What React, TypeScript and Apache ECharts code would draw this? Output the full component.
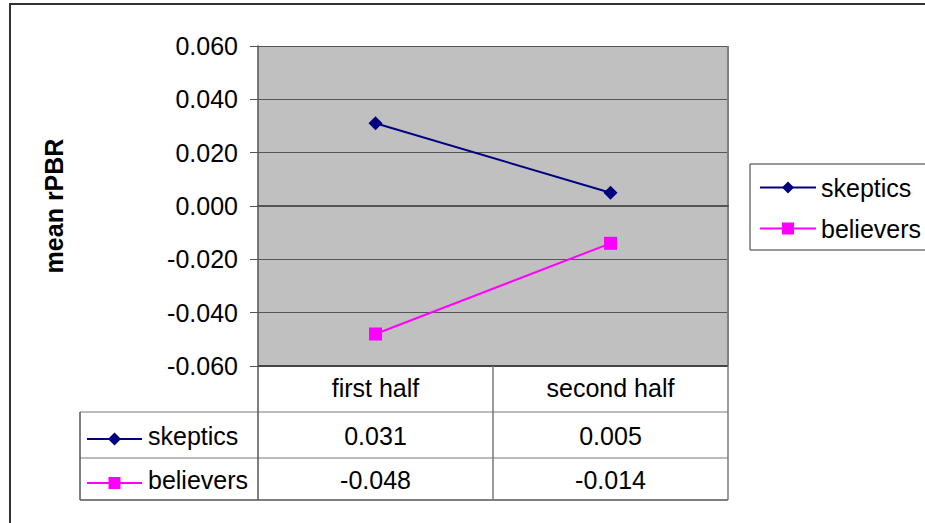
import React, { useEffect, useRef } from "react";
import * as echarts from "echarts";

// Half-by-half comparison of mean rPBR for the two groups
const categories = ["first half", "second half"];
const skeptics = [0.031, 0.005];
const believers = [-0.048, -0.014];
const seriesNames = ["skeptics", "believers"];
const seriesColors = ["#000080", "#FF00FF"];
const yMin = -0.06;
const yMax = 0.06;
const yStep = 0.02;

const FONT = "'Liberation Sans', Arial, sans-serif";
const FS = 25;

const fmt = (v: number) => (Math.abs(v) < 1e-9 ? 0 : v).toFixed(3);

export default function App() {
  const ref = useRef<HTMLDivElement>(null);

  useEffect(() => {
    document.body.style.margin = "0";
    if (!ref.current) return;
    const chart = echarts.init(ref.current, undefined, { renderer: "svg" });

    const gridLeft = 258;
    const gridTop = 46;
    const gridW = 470;
    const gridH = 320;

    chart.setOption({
      animation: false,
      backgroundColor: "#ffffff",
      textStyle: { fontFamily: FONT },
      grid: {
        left: gridLeft,
        top: gridTop,
        width: gridW,
        height: gridH,
        show: true,
        backgroundColor: "#c0c0c0",
        borderWidth: 0,
      },
      legend: {
        orient: "vertical",
        left: 750,
        top: 164,
        itemWidth: 56,
        itemHeight: 15,
        itemGap: 16,
        padding: [11, 14, 9, 9],
        borderColor: "#333333",
        borderWidth: 1,
        textStyle: { fontSize: FS, color: "#000", fontFamily: FONT },
        data: seriesNames,
      },
      xAxis: {
        type: "category",
        data: categories,
        boundaryGap: true,
        axisLine: { onZero: true, lineStyle: { color: "#555555", width: 2 } },
        axisTick: { show: false },
        axisLabel: { show: false },
        splitLine: { show: false },
      },
      yAxis: {
        type: "value",
        min: yMin,
        max: yMax,
        interval: yStep,
        axisLine: { show: true, lineStyle: { color: "#555555", width: 1.5 } },
        axisTick: { show: true, length: 8, lineStyle: { color: "#555555" } },
        axisLabel: {
          formatter: (v: number) => fmt(v),
          fontSize: FS,
          color: "#000",
          margin: 20,
          fontFamily: FONT,
        },
        splitLine: { show: true, lineStyle: { color: "#555555", width: 1 } },
      },
      series: [
        {
          name: seriesNames[0],
          type: "line",
          data: skeptics,
          symbol: "diamond",
          symbolSize: 14,
          lineStyle: { color: seriesColors[0], width: 2 },
          itemStyle: { color: seriesColors[0] },
        },
        {
          name: seriesNames[1],
          type: "line",
          data: believers,
          symbol: "rect",
          symbolSize: 13,
          lineStyle: { color: seriesColors[1], width: 2 },
          itemStyle: { color: seriesColors[1] },
        },
      ],
    });

    // Data table under the plot, columns aligned with the category axis
    const centers = categories.map(
      (c) => chart.convertToPixel({ xAxisIndex: 0 }, c) as number
    );
    const band = centers.length > 1 ? centers[1] - centers[0] : gridW;
    const tableLeft = 80;
    const plotLeft = centers[0] - band / 2;
    const plotRight = centers[centers.length - 1] + band / 2;
    const plotBottom = chart.convertToPixel({ yAxisIndex: 0 }, yMin) as number;
    const plotTop = chart.convertToPixel({ yAxisIndex: 0 }, yMax) as number;
    const rowTops = [plotBottom, 412, 458, 500];
    const headerY = 388;
    const rowYs = [436, 480];

    const gray = "#7a7a7a";
    const elements: any[] = [];

    // outer frame
    elements.push({
      type: "polyline",
      shape: { points: [[10, 523], [10, 4], [925, 4]] },
      style: { stroke: "#333333", lineWidth: 2, fill: "none" },
    });

    // right border of the plot area
    elements.push({
      type: "line",
      shape: { x1: plotRight, y1: plotTop, x2: plotRight, y2: plotBottom },
      style: { stroke: "#808080", lineWidth: 2 },
    });

    // table rules
    elements.push({
      type: "line",
      shape: { x1: plotLeft, y1: plotBottom, x2: plotRight, y2: plotBottom },
      style: { stroke: "#444444", lineWidth: 2 },
    });
    for (let i = 1; i < rowTops.length; i++) {
      const last = i === rowTops.length - 1;
      elements.push({
        type: "line",
        shape: { x1: tableLeft, y1: rowTops[i], x2: plotRight, y2: rowTops[i] },
        style: { stroke: last ? "#555555" : gray, lineWidth: last ? 1.5 : 1 },
      });
    }
    const verticals = [plotLeft, ...centers.slice(0, -1).map((c) => c + band / 2), plotRight];
    verticals.forEach((x, i) => {
      elements.push({
        type: "line",
        shape: { x1: x, y1: plotBottom, x2: x, y2: rowTops[3] },
        style: { stroke: i === 0 ? "#555555" : gray, lineWidth: 1.5 },
      });
    });
    elements.push({
      type: "line",
      shape: { x1: tableLeft, y1: rowTops[1], x2: tableLeft, y2: rowTops[3] },
      style: { stroke: "#555555", lineWidth: 1.5 },
    });

    // header row: category names
    categories.forEach((c, i) => {
      elements.push({
        type: "text",
        x: centers[i],
        y: headerY,
        style: {
          text: c,
          fill: "#000",
          font: `${FS}px ${FONT}`,
          align: "center",
          verticalAlign: "middle",
        },
      });
    });

    // series rows: key + name + values
    const rows = [skeptics, believers];
    rows.forEach((vals, r) => {
      const y = rowYs[r];
      const color = seriesColors[r];
      const my = y + 3;
      elements.push({
        type: "line",
        shape: { x1: 87, y1: my, x2: 142, y2: my },
        style: { stroke: color, lineWidth: 2 },
      });
      const mx = 114.5;
      if (r === 0) {
        elements.push({
          type: "polygon",
          shape: { points: [[mx, my - 6.5], [mx + 6.5, my], [mx, my + 6.5], [mx - 6.5, my]] },
          style: { fill: color },
        });
      } else {
        elements.push({
          type: "rect",
          shape: { x: mx - 6, y: my - 6, width: 12, height: 12 },
          style: { fill: color },
        });
      }
      elements.push({
        type: "text",
        x: 148,
        y,
        style: {
          text: seriesNames[r],
          fill: "#000",
          font: `${FS}px ${FONT}`,
          align: "left",
          verticalAlign: "middle",
        },
      });
      vals.forEach((v, i) => {
        elements.push({
          type: "text",
          x: centers[i],
          y,
          style: {
            text: fmt(v),
            fill: "#000",
            font: `${FS}px ${FONT}`,
            align: "center",
            verticalAlign: "middle",
          },
        });
      });
    });

    // y-axis title
    elements.push({
      type: "text",
      x: 54,
      y: (plotTop + plotBottom) / 2,
      rotation: Math.PI / 2,
      style: {
        text: "mean rPBR",
        fill: "#000",
        font: `bold ${FS}px ${FONT}`,
        align: "center",
        verticalAlign: "middle",
      },
    });

    chart.setOption({ graphic: { elements } });

    return () => chart.dispose();
  }, []);

  return <div ref={ref} style={{ width: 925, height: 523 }} />;
}
